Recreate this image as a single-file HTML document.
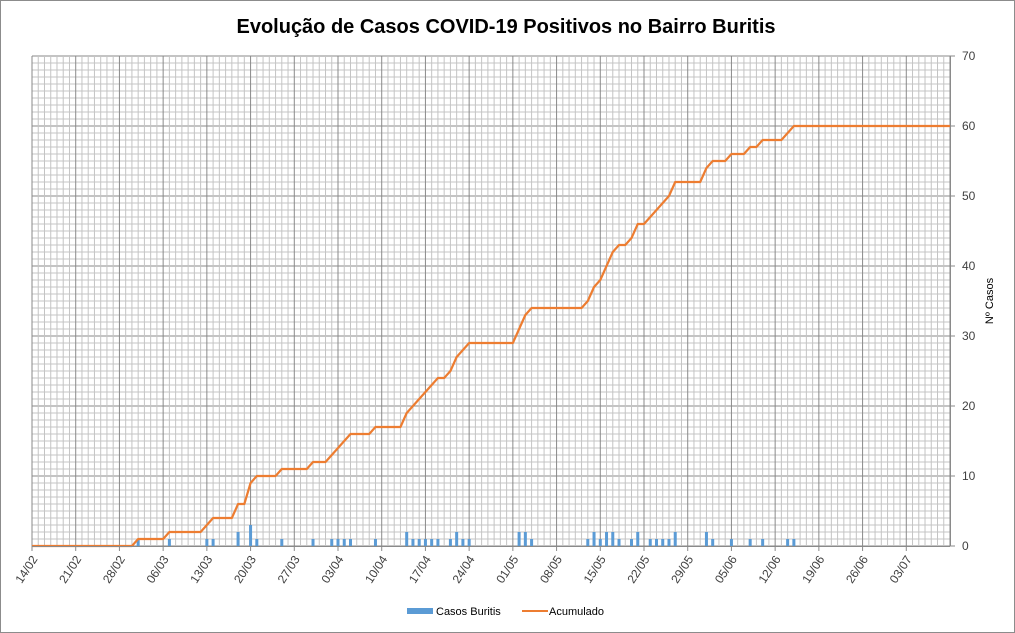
<!DOCTYPE html>
<html><head><meta charset="utf-8">
<style>
html,body{margin:0;padding:0;background:#fff;}
svg{display:block;font-family:"Liberation Sans",Calibri,sans-serif;}
</style></head>
<body>
<svg id="chart" width="1015" height="633" viewBox="0 0 1015 633" xmlns="http://www.w3.org/2000/svg">
<rect x="0.5" y="0.5" width="1014" height="632" fill="#fff" stroke="#8c8c8c"/>
<text x="506" y="33" text-anchor="middle" font-size="20" font-weight="bold" fill="#000">Evolução de Casos COVID-19 Positivos no Bairro Buritis</text>
<g id="grid"></g>
<g id="bars"></g>
<g id="line"></g>
<g id="xaxis"></g>
<g id="yaxis"></g>
<text transform="translate(993,301) rotate(-90)" text-anchor="middle" font-size="11" fill="#000">Nº Casos</text>
<g>
<rect x="407" y="608" width="26" height="6" fill="#5b9bd5"/>
<text x="436" y="615" font-size="11" fill="#000">Casos Buritis</text>
<line x1="522" y1="611" x2="548" y2="611" stroke="#ed7d31" stroke-width="2"/>
<text x="549" y="615" font-size="11" fill="#000">Acumulado</text>
</g>
</svg>
<script>
// Day index 0 = 14/02/2020, last = 147 (10/07)
const numDays = 148;
const caseDays =   [17,22,28,29,33,35,36,40,45,48,49,50,51,55,60,61,62,63,64,65,67,68,69,70,78,79,80,89,90,91,92,93,94,96,97,99,100,101,102,103,108,109,112,115,117,121,122];
const caseValues = [1, 1, 1, 1, 2, 3, 1, 1, 1, 1, 1, 1, 1, 1, 2, 1, 1, 1, 1, 1, 1, 2, 1, 1, 2, 2, 1, 1, 2, 1, 2, 2, 1, 1, 2, 1, 1, 1, 1, 2, 2, 1, 1, 1, 1, 1, 1];
const cumDays =   [0,16,17,21,22,27,28,29,32,33,34,35,36,39,40,44,45,47,48,49,50,51,54,55,59,60,61,62,63,64,65,66,67,68,69,70,76,77,78,79,80,88,89,90,91,92,93,94,95,96,97,98,99,100,101,102,103,107,108,109,111,112,114,115,116,117,120,121,122,147];
const cumValues = [0,0, 1, 1, 2, 2, 3, 4, 4, 6, 6, 9, 10,10,11,11,12,12,13,14,15,16,16,17,17,19,20,21,22,23,24,24,25,27,28,29,29,29,31,33,34,34,35,37,38,40,42,43,43,44,46,46,47,48,49,50,52,52,54,55,55,56,56,57,57,58,58,59,60,60];
const yTicks = [0,10,20,30,40,50,60,70];
const xTickLabels = ["14/02","21/02","28/02","06/03","13/03","20/03","27/03","03/04","10/04","17/04","24/04","01/05","08/05","15/05","22/05","29/05","05/06","12/06","19/06","26/06","03/07"];

const X0=32, X1=950, Y0=546, Y1=56, YMAX=70;
const dx=(X1-X0)/(numDays-1);
const xs=d=>X0+d*dx;
const ys=v=>Y0-(v/YMAX)*(Y0-Y1);
const NS="http://www.w3.org/2000/svg";
function mk(tag,attrs,parent){const e=document.createElementNS(NS,tag);for(const k in attrs)e.setAttribute(k,attrs[k]);parent.appendChild(e);return e;}

const grid=document.getElementById('grid');
for(let v=0;v<=YMAX;v++){
  const major=v%10===0;
  const l=mk('line',{x1:X0,x2:X1,y1:ys(v),y2:ys(v),stroke:major?'#8a8a8a':'#c4c4c4','stroke-width':1},grid);
  
  
}
for(let d=0;d<numDays;d++){
  const major=d%7===0;
  const l=mk('line',{x1:xs(d),x2:xs(d),y1:Y1,y2:Y0,stroke:major?'#8a8a8a':'#c4c4c4','stroke-width':1},grid);
  
  
}

const bars=document.getElementById('bars');
caseDays.forEach((d,i)=>{
  const v=caseValues[i];
  const b=mk('rect',{x:xs(d)-1.5,y:ys(v),width:3,height:ys(0)-ys(v),fill:'#5b9bd5'},bars);
  
  
});

const lineG=document.getElementById('line');
const pts=cumDays.map((d,i)=>xs(d).toFixed(2)+','+ys(cumValues[i]).toFixed(2)).join(' ');
const pl=mk('polyline',{points:pts,fill:'none',stroke:'#ed7d31','stroke-width':2.2,'stroke-linejoin':'round'},lineG);



const xa=document.getElementById('xaxis');
const axl=mk('line',{x1:X0,x2:X1,y1:Y0+0.5,y2:Y0+0.5,stroke:'#8a8a8a'},xa);


xTickLabels.forEach((lab,i)=>{
  const x=xs(i*7);
  const t=mk('line',{x1:x,x2:x,y1:Y0,y2:Y0+5,stroke:'#8a8a8a'},xa);
  
  
  const tx=mk('text',{transform:`translate(${x+6},${Y0+13}) rotate(-57)`,'text-anchor':'end','font-size':12,fill:'#404040'},xa);
  tx.textContent=lab;
  
  
});

const ya=document.getElementById('yaxis');
const ayl=mk('line',{x1:X1+0.5,x2:X1+0.5,y1:Y1,y2:Y0,stroke:'#8a8a8a'},ya);


yTicks.forEach(v=>{
  const t=mk('line',{x1:X1,x2:X1+5,y1:ys(v),y2:ys(v),stroke:'#8a8a8a'},ya);
  
  
  const tx=mk('text',{x:962,y:ys(v)+4,'font-size':12,fill:'#404040'},ya);
  tx.textContent=v;
  
  
});
</script>
</body></html>
